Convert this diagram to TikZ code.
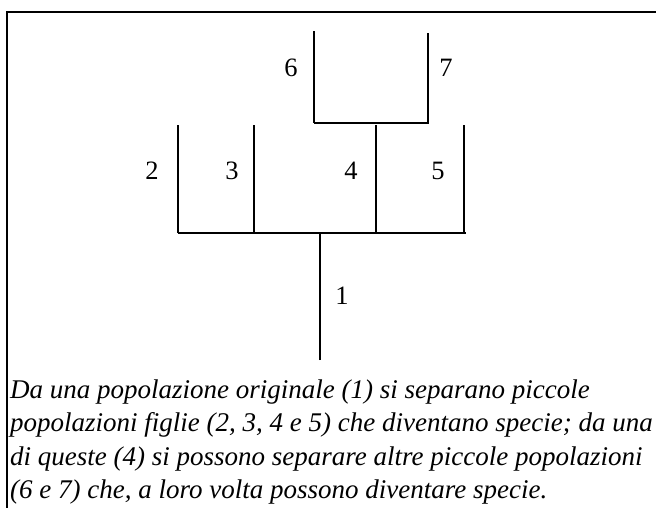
\documentclass[tikz,border=0pt]{standalone}
\usepackage{fontspec}
\setmainfont{Liberation Serif}
\usetikzlibrary{positioning}

\begin{document}
\begin{tikzpicture}[
    x=1pt, y=-1pt,
    branch/.style={line width=1.8pt},
    frame/.style={line width=2.6pt},
    popnum/.style={font=\fontsize{26.5}{30}\selectfont, inner sep=0pt},
    caption/.style={font=\fontsize{27}{33.5}\selectfont\itshape,
        anchor=base west, inner sep=0pt}
]
\useasboundingbox (0,0) rectangle (656,508);
\draw[frame] (656,12) -- (7,12) -- (7,508);

% main tree
\coordinate (root) at (320,360);
\coordinate (fork) at (320,233);
\coordinate (barL) at (178,233);
\coordinate (barR) at (466,233);
\coordinate (t2) at (178,125);
\coordinate (t3) at (254,125);
\coordinate (t4) at (376,125);
\coordinate (t5) at (464,125);
\coordinate (b3) at (254,233);
\coordinate (b4) at (376,233);
\coordinate (b5) at (464,233);

\draw[branch] (root) -- (fork);
\draw[branch] (barL) -- (barR);
\draw[branch] (barL) -- (t2);
\draw[branch] (b3) -- (t3);
\draw[branch] (b4) -- (t4);
\draw[branch] (b5) -- (t5);

% second split from 4
\coordinate (subL) at (314,123);
\coordinate (subR) at (429,123);
\coordinate (b7) at (428,123);
\coordinate (t6) at (314,31);
\coordinate (t7) at (428,33);
\draw[branch] (subL) -- (subR);
\draw[branch] (subL) -- (t6);
\draw[branch] (b7) -- (t7);

\node[popnum] (n1) at (342,296) {1};
\node[popnum] (n2) at (152,171) {2};
\node[popnum] (n3) at (232,171) {3};
\node[popnum] (n4) at (351,171) {4};
\node[popnum] (n5) at (438,171) {5};
\node[popnum] (n6) at (291,68) {6};
\node[popnum] (n7) at (446,68) {7};

% caption lines
\node[caption] (cap1) at (10,398) {Da una popolazione originale (1) si separano piccole};
\node[caption] (cap2) at (10,431.5) {popolazioni figlie (2, 3, 4 e 5) che diventano specie; da una};
\node[caption] (cap3) at (10,465) {di queste (4) si possono separare altre piccole popolazioni};
\node[caption] (cap4) at (10,498.5) {(6 e 7) che, a loro volta possono diventare specie.};
\end{tikzpicture}
\end{document}
